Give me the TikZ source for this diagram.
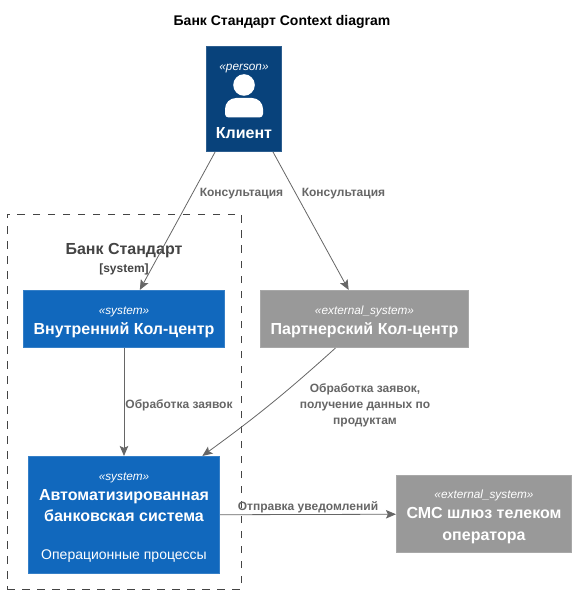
\documentclass[tikz,border=0pt]{standalone}
\usepackage{fontspec}
\setmainfont{Liberation Sans}
\usetikzlibrary{arrows.meta}
\definecolor{personcol}{HTML}{08427B}
\definecolor{systemcol}{HTML}{1168BD}
\definecolor{externalcol}{HTML}{999999}
\definecolor{linecol}{HTML}{666666}
\definecolor{framecol}{HTML}{444444}
\newcommand{\stereo}[2]{\rule{0pt}{#1pt}{\fontsize{11.8}{14}\selectfont\itshape «#2»}}
\newcommand{\boxtitle}[1]{{\bfseries #1}}
\tikzset{
  box/.style={draw=#1!85!white, fill=#1, text=white, inner sep=0pt, align=center, line width=0.6pt, font=\fontsize{16}{21}\selectfont},
  rel/.style={draw=linecol, line width=0.8pt, -{Stealth[length=10pt,width=8.5pt,inset=2pt]}},
  rellabel/.style={text=linecol, font=\fontsize{12}{16}\selectfont\bfseries, align=center, inner sep=0pt},
}
\begin{document}
\begin{tikzpicture}[x=1pt, y=-1pt]
  \useasboundingbox (0,0) rectangle (576,593);
  \node (title) at (282,22) [font=\fontsize{14}{16}\selectfont\bfseries, inner sep=0pt] {Банк Стандарт Context diagram};

  % boundary
  \node (bank) at (124,401.5) [draw=framecol, line width=0.8pt, dash pattern=on 7.5pt off 7.5pt, minimum width=234pt, minimum height=375pt, inner sep=0pt] {};
  \node (banktitle) at (124,251) [text=framecol, font=\fontsize{16}{18}\selectfont\bfseries, inner sep=0pt] {Банк Стандарт};
  \node (banktag) at (124,269) [text=framecol, font=\fontsize{12}{14}\selectfont\bfseries, inner sep=0pt] {[system]};

  % person
  \node (client) at (244,99) [box=personcol, minimum width=75.5pt, minimum height=105.5pt] {};
  \node (clienttag) at (244,68.5) [text=white, inner sep=0pt] {\stereo{0}{person}};
  \fill[white] (244,85) circle (10.8pt);
  \fill[white, rounded corners=3.5pt] (225,117.5) [rounded corners=11pt] -- (225,98) -- (263,98) [rounded corners=3.5pt] -- (263,117.5) -- cycle;
  \node (clientname) at (244,133) [text=white, inner sep=0pt, font=\fontsize{16}{21}\selectfont] {\boxtitle{Клиент}};

  % systems
  \node (internal) at (124,319) [box=systemcol, minimum width=201.4pt, minimum height=57.5pt] {\stereo{14}{system}\\[-1pt]\boxtitle{Внутренний Кол-центр}};
  \node (partner) at (364.5,319) [box=externalcol, minimum width=208.4pt, minimum height=57.5pt] {\stereo{14}{external\_system}\\[-1pt]\boxtitle{Партнерский Кол-центр}};
  \node (abs) at (124,515) [box=systemcol, minimum width=191.4pt, minimum height=117.5pt] {\stereo{13}{system}\\[-1pt]\boxtitle{Автоматизированная}\\\boxtitle{банковская система}\\[17pt]{\fontsize{14}{15}\selectfont Операционные процессы}};
  \node (sms) at (484,514) [box=externalcol, minimum width=175.5pt, minimum height=77.5pt] {\stereo{14}{external\_system}\\[-1pt]\boxtitle{СМС шлюз телеком}\\[1pt]\boxtitle{оператора}};

  \draw[rel] (client) -- (internal);
  \draw[rel] (client) -- (partner);
  \draw[rel] (internal) -- (abs);
  \draw[rel] (partner.225) to[bend left=3] (abs.37);
  \draw[rel] (abs) -- (sms);

  \node (lblone) at (241.5,193.5) [rellabel] {Консультация};
  \node (lbltwo) at (343.5,193.5) [rellabel] {Консультация};
  \node (lblthree) at (179,405.5) [rellabel] {Обработка заявок};
  \node (lblfour) at (365,405.5) [rellabel] {Обработка заявок,\\получение данных по\\продуктам};
  \node (lblfive) at (308,507.5) [rellabel] {Отправка уведомлений};
\end{tikzpicture}
\end{document}
